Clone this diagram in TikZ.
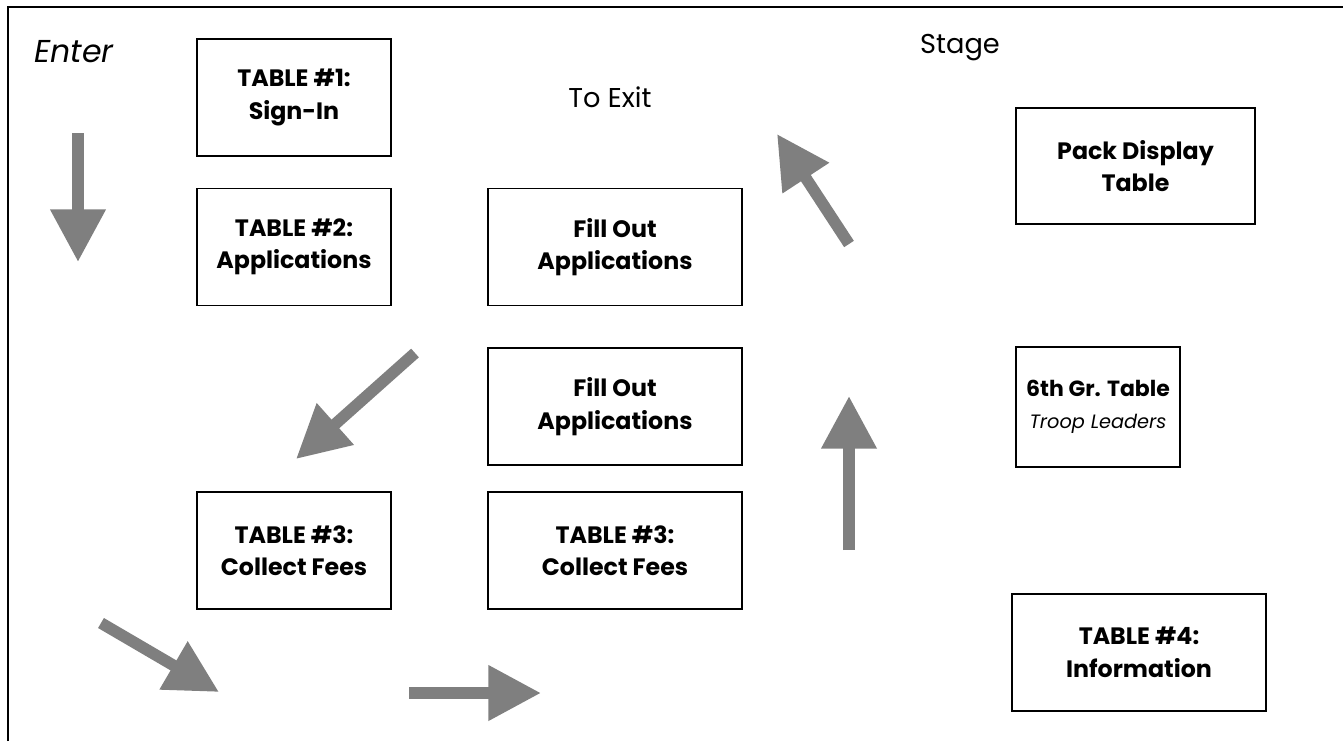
\documentclass[tikz,border=0pt]{standalone}
\usepackage{fontspec}
\setmainfont{Poppins}
\usepackage{tikz}
\usetikzlibrary{arrows.meta,positioning}
\definecolor{arrowgray}{HTML}{7F7F7F}

\begin{document}
\begin{tikzpicture}[
  x=0.02cm, y=-0.02cm,
  font=\fontsize{15.5}{19}\selectfont,
  tbl/.style={draw, line width=1.1pt, minimum width=3.88cm, minimum height=2.34cm, align=center, inner sep=0pt, font=\fontsize{13.5}{18.5}\selectfont\bfseries},
  widetbl/.style={tbl, minimum width=5.08cm},
  note/.style={inner sep=0pt, anchor=center},
  flow/.style={-{Triangle[length=30pt,width=30pt]}, line width=6.6pt, draw=arrowgray}
]
  \useasboundingbox (0,0) rectangle (1344,741);
  % frame
  \draw[line width=1.6pt] (8,741) -- (8,7) -- (1343,7);

  % tables
  \node[tbl] (tab1) at (294,97.5) {TABLE \#1:\\Sign-In};
  \node[tbl] (tab2) at (294,247) {TABLE \#2:\\Applications};
  \node[widetbl] (fill1) at (615,247) {Fill Out\\Applications};
  \node[widetbl] (fill2) at (615,406.5) {Fill Out\\Applications};
  \node[tbl] (fees1) at (294,550.5) {TABLE \#3:\\Collect Fees};
  \node[widetbl] (fees2) at (615,550.5) {TABLE \#3:\\Collect Fees};
  \node[tbl, minimum width=4.78cm, minimum height=2.32cm] (pack) at (1135.5,166) {Pack Display\\Table};
  \node[tbl, minimum width=3.28cm, minimum height=2.4cm, font=\fontsize{12.5}{18}\selectfont\bfseries] (sixth) at (1098,407) {6th Gr. Table\\{\fontsize{11}{14}\selectfont\normalfont\itshape Troop Leaders}};
  \node[widetbl] (info) at (1139,652.5) {TABLE \#4:\\Information};

  % labels
  \node[note, font=\fontsize{18}{22}\selectfont\itshape] (enter) at (74,52) {Enter};
  \node[note] (stage) at (960,48) {Stage};
  \node[note] (exit) at (610,97) {To Exit};

  % walking route
  \coordinate (a1) at (78,133);   \coordinate (b1) at (78,262);
  \coordinate (a2) at (415,353);  \coordinate (b2) at (296,459);
  \coordinate (a3) at (101,623);  \coordinate (b3) at (219,692);
  \coordinate (a4) at (409,693);  \coordinate (b4) at (541,693);
  \coordinate (a5) at (849,550);  \coordinate (b5) at (849,396);
  \coordinate (a6) at (849,244);  \coordinate (b6) at (777,134);

  \draw[flow] (a1) -- (b1);
  \draw[flow] (a2) -- (b2);
  \draw[flow] (a3) -- (b3);
  \draw[flow] (a4) -- (b4);
  \draw[flow] (a5) -- (b5);
  \draw[flow] (a6) -- (b6);
\end{tikzpicture}
\end{document}
